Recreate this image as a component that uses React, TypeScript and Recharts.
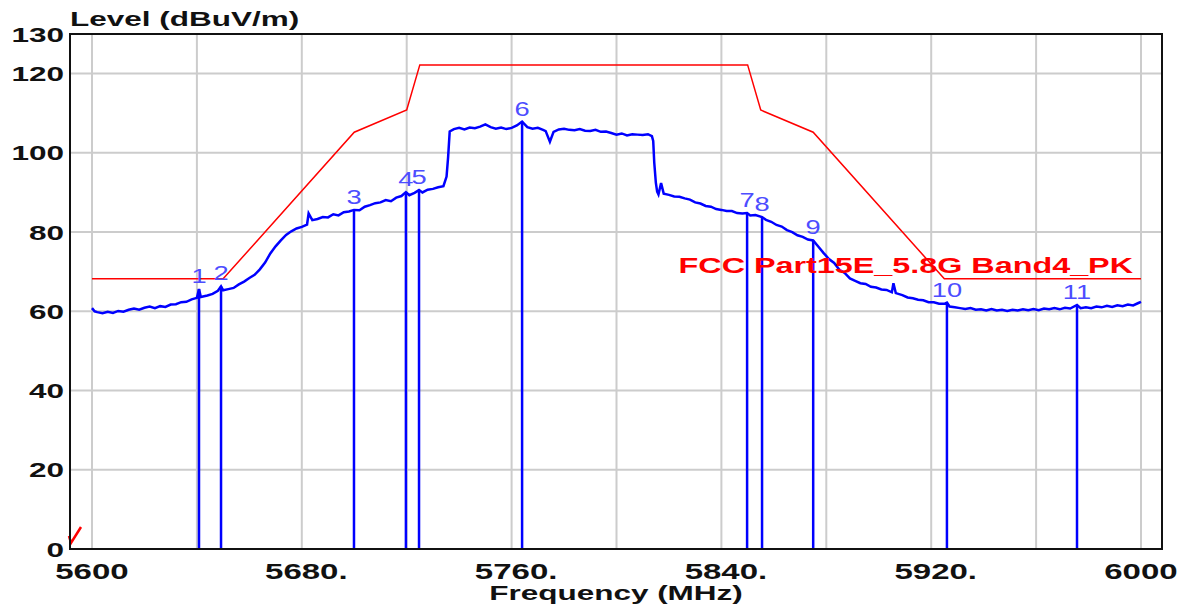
import {
  ComposedChart,
  Line,
  Scatter,
  XAxis,
  YAxis,
  CartesianGrid,
  ReferenceLine,
  ReferenceDot,
} from "recharts";

// measured trace, [frequency MHz, level dBuV/m]
const TRACE: [number, number][] = [
  [5600, 60.8], [5601, 60.0], [5602, 59.8], [5604, 59.5], [5606, 59.9], [5608, 59.6],
  [5610, 60.1], [5612, 59.9], [5614, 60.4], [5616, 60.7], [5618, 60.4], [5620, 60.9],
  [5622, 61.2], [5624, 60.8], [5626, 61.3], [5628, 61.1], [5630, 61.7], [5632, 61.8],
  [5634, 62.3], [5636, 62.4], [5638, 63.0], [5640, 63.4], [5640.8, 65.6], [5641.5, 63.6],
  [5644, 64.0], [5646, 64.4], [5648, 65.2], [5649.2, 66.3], [5650, 65.3], [5652, 65.6],
  [5654, 65.9], [5656, 66.8], [5658, 67.5], [5660, 68.4], [5662, 69.2], [5664, 70.6],
  [5666, 72.3], [5668, 74.6], [5670, 76.4], [5672, 77.9], [5674, 79.3], [5676, 80.2],
  [5678, 80.9], [5680, 81.3], [5682, 81.9], [5682.6, 84.7], [5684, 83.0], [5686, 83.3],
  [5688, 83.8], [5690, 83.7], [5692, 84.5], [5694, 84.2], [5696, 85.0], [5698, 85.2],
  [5699.9, 85.6], [5702, 85.5], [5704, 86.4], [5706, 86.8], [5708, 87.3], [5710, 87.5],
  [5712, 88.1], [5714, 87.8], [5716, 88.7], [5718, 89.1], [5719.7, 90.1], [5721, 89.3],
  [5723, 89.9], [5724.7, 90.6], [5726, 90.0], [5728, 90.7], [5730, 90.9], [5732, 91.3],
  [5734, 91.6], [5735.2, 94.0], [5735.8, 99.0], [5736.4, 105.4], [5738, 106.0], [5740, 106.3],
  [5742, 105.9], [5744, 106.4], [5746, 106.2], [5748, 106.6], [5750, 107.2], [5752, 106.5],
  [5754, 106.1], [5756, 106.4], [5758, 106.0], [5760, 106.3], [5762, 106.9], [5764, 107.9],
  [5766, 106.5], [5768, 106.1], [5770, 106.3], [5772, 105.8], [5773, 105.5], [5774.6, 102.8],
  [5776, 105.3], [5778, 105.9], [5780, 106.1], [5782, 105.8], [5784, 105.7], [5786, 106.0],
  [5788, 105.6], [5790, 105.5], [5792, 105.8], [5794, 105.3], [5796, 105.4], [5798, 105.0],
  [5800, 104.6], [5802, 104.9], [5804, 104.4], [5806, 104.7], [5808, 104.6], [5810, 104.5],
  [5812, 104.7], [5813.5, 104.2], [5814, 103.0], [5814.4, 97.5], [5815, 92.5], [5815.5, 90.2],
  [5816, 89.5], [5817, 92.4], [5818, 89.7], [5820, 89.4], [5822, 89.0], [5824, 88.9],
  [5826, 88.5], [5828, 88.2], [5830, 87.5], [5832, 87.2], [5834, 86.6], [5836, 86.4],
  [5838, 85.8], [5840, 85.6], [5842, 85.3], [5844, 85.3], [5846, 84.8], [5848, 84.7],
  [5849.8, 84.8], [5851, 84.2], [5853, 84.3], [5855.5, 83.8], [5857, 83.1], [5859, 82.6],
  [5861, 81.8], [5863, 81.4], [5865, 80.5], [5867, 80.0], [5869, 79.2], [5871, 78.8],
  [5873, 78.1], [5875, 77.9], [5877, 76.3], [5879, 74.7], [5881, 73.2], [5883, 72.2],
  [5885, 70.5], [5887, 69.7], [5889, 68.3], [5891, 67.7], [5893, 67.1], [5895, 66.9],
  [5897, 66.2], [5899, 66.0], [5901, 65.5], [5903, 65.4], [5905, 64.8], [5905.6, 67.1],
  [5906.5, 64.6], [5909, 64.1], [5911, 63.5], [5913, 63.3], [5915, 62.9], [5917, 62.8],
  [5919, 62.3], [5921, 62.3], [5923, 61.9], [5925, 61.9], [5926, 62.2], [5927, 61.2],
  [5929, 61.0], [5931, 60.8], [5933, 60.6], [5935, 60.8], [5937, 60.4], [5939, 60.5],
  [5941, 60.2], [5943, 60.6], [5945, 60.2], [5947, 60.4], [5949, 60.1], [5951, 60.4],
  [5953, 60.2], [5955, 60.5], [5957, 60.3], [5959, 60.6], [5961, 60.3], [5963, 60.7],
  [5965, 60.5], [5967, 60.8], [5969, 60.5], [5971, 60.9], [5973, 60.7], [5975.6, 61.6],
  [5977, 60.8], [5979, 61.0], [5981, 60.8], [5983, 61.2], [5985, 61.0], [5987, 61.4],
  [5989, 61.1], [5991, 61.5], [5993, 61.3], [5995, 61.7], [5997, 61.5], [5999, 62.1],
  [6000, 62.4],
];

// FCC 15E 5.8G band 4 peak limit
const LIMIT_FREQ = [5600, 5650, 5700, 5720, 5725, 5850, 5855, 5875, 5925, 6000];
const LIMIT_LEVEL = [68.2, 68.2, 105.2, 110.8, 122.2, 122.2, 110.8, 105.2, 68.2, 68.2];
const LIMIT_NAME = "FCC Part15E_5.8G Band4_PK";

const MARKER_FREQ = [5640.8, 5649.2, 5699.9, 5719.7, 5724.7, 5764, 5849.8, 5855.5, 5875, 5926, 5975.6];
const MARKER_LEVEL = [65.6, 66.3, 85.6, 90.1, 90.6, 107.9, 84.8, 83.8, 77.9, 62.2, 61.6];
const MARKER_LABEL = ["1", "2", "3", "4", "5", "6", "7", "8", "9", "10", "11"];

// grid every 40 MHz, labels every 80 MHz
const X_GRID = [5600, 5640, 5680, 5720, 5760, 5800, 5840, 5880, 5920, 5960, 6000];
const X_LABELED = [5600, 5680, 5760, 5840, 5920, 6000];
const Y_TICKS = [0, 20, 40, 60, 80, 100, 120, 130];

const traceData = TRACE.map(([freq, level]) => ({ freq, level }));
const limitData = LIMIT_FREQ.map((freq, i) => ({ freq, level: LIMIT_LEVEL[i] }));
const markerData = MARKER_FREQ.map((freq, i) => ({
  freq,
  level: MARKER_LEVEL[i],
  label: MARKER_LABEL[i],
}));

const FONT = "'Liberation Sans', Arial, sans-serif";
const STRETCH = 1.5;

const YTick = ({ x, y, payload }: any) => (
  <g transform={`translate(${x},${y}) scale(${STRETCH},1)`}>
    <text textAnchor="end" dy="0.36em" fontFamily={FONT} fontWeight="bold" fontSize={21} fill="#111">
      {payload.value}
    </text>
  </g>
);

const XTick = ({ x, y, payload }: any) => {
  const v = payload.value;
  if (!X_LABELED.includes(v)) return <g />;
  const txt = v === 5600 || v === 6000 ? String(v) : `${v}.`;
  return (
    <g transform={`translate(${x},${y + 30}) scale(${STRETCH},1)`}>
      <text x={-24.5} textAnchor="start" fontFamily={FONT} fontWeight="bold" fontSize={22} fill="#111">
        {txt}
      </text>
    </g>
  );
};

const MarkerLabel = (p: any) => (
  <g transform={`translate(${p.cx},${p.cy - 6}) scale(1.3,1)`}>
    <text textAnchor="middle" fontFamily={FONT} fontSize={21} fill="#4d4dff">
      {p.payload.label}
    </text>
  </g>
);

const LimitName = (p: any) => (
  <g transform={`translate(${p.cx - 8},${p.cy - 6}) scale(1.47,1)`}>
    <text textAnchor="end" fontFamily={FONT} fontWeight="bold" fontSize={22} fill="#ff0000">
      {LIMIT_NAME}
    </text>
  </g>
);

export default function App() {
  return (
    <div style={{ position: "absolute", left: 0, top: 0, width: 1192, height: 607, background: "#fff" }}>
      <ComposedChart width={1192} height={607} margin={{ top: 34, right: 30, bottom: 18, left: 0 }}>
        <CartesianGrid stroke="#cccccc" strokeWidth={2} />
        <XAxis
          dataKey="freq"
          type="number"
          domain={[5600, 6000]}
          ticks={X_GRID}
          interval={0}
          padding={{ left: 22, right: 21 }}
          height={40}
          tickSize={0}
          tickMargin={0}
          tickLine={false}
          axisLine={{ stroke: "#000", strokeWidth: 2 }}
          tick={<XTick />}
          label={{
            content: ({ viewBox }: any) => (
              <g transform={`translate(${viewBox.x + viewBox.width / 2},${viewBox.y + 51}) scale(${STRETCH},1)`}>
                <text textAnchor="middle" fontFamily={FONT} fontWeight="bold" fontSize={21} fill="#111">
                  Frequency (MHz)
                </text>
              </g>
            ),
          }}
        />
        <YAxis
          type="number"
          domain={[0, 130]}
          ticks={Y_TICKS}
          interval={0}
          width={70}
          tickSize={4}
          tickMargin={2}
          tickLine={false}
          axisLine={{ stroke: "#000", strokeWidth: 2 }}
          tick={<YTick />}
          label={{
            content: ({ viewBox }: any) => {
              const rx = viewBox.x + viewBox.width;
              const by = viewBox.y + viewBox.height;
              return (
                <g>
                  <g transform={`translate(${rx},${viewBox.y - 8}) scale(${STRETCH},1)`}>
                    <text fontFamily={FONT} fontWeight="bold" fontSize={21} fill="#111">
                      Level (dBuV/m)
                    </text>
                  </g>
                  <polyline
                    points={`${rx - 1},${by - 13} ${rx + 1},${by - 6} ${rx + 11},${by - 22}`}
                    fill="none"
                    stroke="#ff0000"
                    strokeWidth={2.5}
                  />
                </g>
              );
            },
          }}
        />
        <Line
          data={limitData}
          dataKey="level"
          type="linear"
          stroke="#ff0000"
          strokeWidth={1.5}
          dot={false}
          isAnimationActive={false}
        />
        <Line
          data={traceData}
          dataKey="level"
          type="linear"
          stroke="#0000ff"
          strokeWidth={2.5}
          dot={false}
          isAnimationActive={false}
        />
        {markerData.map((m) => (
          <ReferenceLine
            key={m.label}
            segment={[
              { x: m.freq, y: 0 },
              { x: m.freq, y: m.level },
            ]}
            stroke="#0000ff"
            strokeWidth={2.5}
          />
        ))}
        <Scatter data={markerData} dataKey="level" shape={<MarkerLabel />} isAnimationActive={false} />
        <ReferenceDot x={6000} y={68.2} r={0} shape={<LimitName />} />
      </ComposedChart>
      {/* plot frame */}
      <div
        style={{
          position: "absolute",
          left: 69,
          top: 33,
          width: 1094,
          height: 517,
          border: "2px solid #111",
          boxSizing: "border-box",
          pointerEvents: "none",
        }}
      />
    </div>
  );
}
